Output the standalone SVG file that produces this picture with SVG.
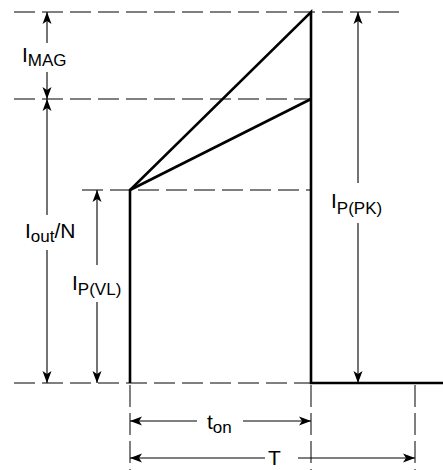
<svg xmlns="http://www.w3.org/2000/svg" width="443" height="470" viewBox="0 0 443 470">
  <style>
    .dash { stroke: #000; stroke-width: 1; stroke-dasharray: 21 7; fill: none; }
    .vdash { stroke: #000; stroke-width: 1; stroke-dasharray: 22 6; fill: none; }
    .wave { stroke: #000; stroke-width: 2.6; fill: none; stroke-linejoin: miter; }
    .dim { stroke: #000; stroke-width: 1.1; fill: none; }
    .a-end { marker-end: url(#ah); }
    .a-start { marker-start: url(#ah); }
    text { font-family: "Liberation Sans", Arial, Helvetica, sans-serif; font-size: 21px; fill: #000; }
    .sub { font-size: 17px; }
  </style>
  <defs>
    <marker id="ah" viewBox="-12 -5 12 10" refX="0" refY="0" markerWidth="12" markerHeight="10" markerUnits="userSpaceOnUse" orient="auto-start-reverse">
      <path d="M0,0 L-12,-4.5 L-9,0 L-12,4.5 Z" fill="#000"/>
    </marker>
  </defs>

  <g id="guides">
    <line class="dash" x1="14" y1="12" x2="402" y2="12"/>
    <line class="dash" x1="14" y1="99" x2="311" y2="99"/>
    <line class="dash" x1="82" y1="190" x2="311" y2="190"/>
    <line class="dash" x1="14" y1="383" x2="311" y2="383"/>
    <line class="vdash" x1="130" y1="385" x2="130" y2="470"/>
    <line class="vdash" x1="311" y1="385" x2="311" y2="470"/>
    <line class="vdash" x1="415" y1="385" x2="415" y2="470"/>
  </g>

  <g id="waveform">
    <polyline class="wave" points="130,383 130,190 311,12 311,383 443,383"/>
    <line class="wave" x1="130" y1="190" x2="311" y2="99"/>
  </g>

  <g id="connectors">
    <line class="dim a-start" x1="47" y1="12" x2="47" y2="43"/>
    <line class="dim a-end" x1="47" y1="72" x2="47" y2="99"/>
    <line class="dim a-start" x1="47" y1="99" x2="47" y2="215"/>
    <line class="dim a-end" x1="47" y1="250" x2="47" y2="383"/>
    <line class="dim a-start" x1="97" y1="190" x2="97" y2="265"/>
    <line class="dim a-end" x1="97" y1="302" x2="97" y2="383"/>
    <line class="dim a-start" x1="358" y1="12" x2="358" y2="183"/>
    <line class="dim a-end" x1="358" y1="223" x2="358" y2="383"/>
    <line class="dim a-start" x1="130" y1="421" x2="197" y2="421"/>
    <line class="dim a-end" x1="243" y1="421" x2="311" y2="421"/>
    <line class="dim a-start" x1="130" y1="458" x2="265" y2="458"/>
    <line class="dim a-end" x1="298" y1="458" x2="415" y2="458"/>
  </g>

  <g id="label-imag">
    <text x="22" y="62">I<tspan class="sub" dy="4">MAG</tspan></text>
  </g>
  <g id="label-iout">
    <text x="25" y="238">I<tspan class="sub" dy="4">out</tspan><tspan dy="-4">/N</tspan></text>
  </g>
  <g id="label-ipvl">
    <text x="72" y="290">I<tspan class="sub" dy="5">P(VL)</tspan></text>
  </g>
  <g id="label-ippk">
    <text x="331" y="208">I<tspan class="sub" dy="6">P(PK)</tspan></text>
  </g>
  <g id="label-ton">
    <text x="207" y="429">t<tspan class="sub" dy="4">on</tspan></text>
  </g>
  <g id="label-t">
    <text x="268" y="465">T</text>
  </g>
</svg>
